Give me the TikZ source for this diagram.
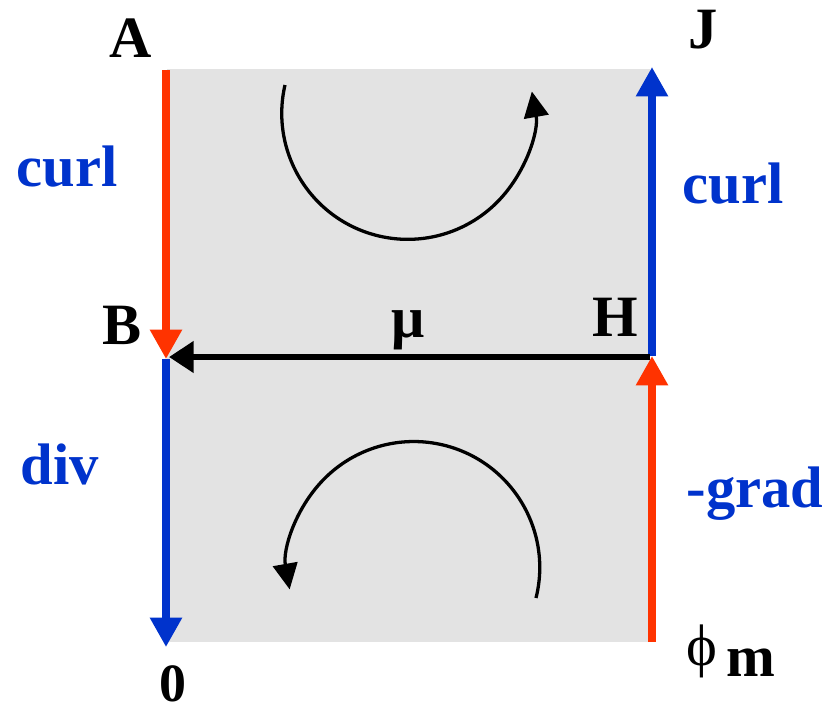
\documentclass[tikz,border=0pt]{standalone}
\usepackage{fontspec}
\setmainfont{Liberation Serif}
\usepackage{xcolor}
\usepackage{tikz}
\usetikzlibrary{arrows.meta}
\definecolor{flowred}{RGB}{255, 51, 0}
\definecolor{flowblue}{RGB}{0, 51, 204}
\definecolor{cellgray}{RGB}{227, 227, 227}

\begin{document}
\begin{tikzpicture}[x=0.03cm, y=-0.03cm,
    flow/.style={line width=6pt, -{Triangle[length=25pt, width=26pt]}},
    link/.style={line width=5pt, -{Triangle[length=21pt, width=26pt]}},
    turn/.style={line width=2.8pt, -{Triangle[length=22pt, width=21pt]}},
    lbl/.style={font=\fontsize{50}{52}\selectfont\bfseries, anchor=base, inner sep=0pt},
    op/.style={lbl, text=flowblue}]
    \useasboundingbox (0,0) rectangle (827,714);
    \fill[cellgray] (167,69) rectangle (650,642);
    % corners
    \coordinate (a) at (166,70);
    \coordinate (b) at (166,359);
    \coordinate (z) at (166,647);
    \coordinate (j) at (652,67);
    \coordinate (h) at (652,356);
    \coordinate (p) at (652,642);
    \coordinate (hl) at (650,357);
    \coordinate (bl) at (169,357);
    % arrows
    \draw[flow, flowred] (a) -- (b);
    \draw[flow, flowblue] (b) -- (z);
    \draw[flow, flowblue] (h) -- (j);
    \draw[flow, flowred] (p) -- (h);
    \draw[link, black] (hl) -- (bl);
    \draw[turn] (285,85) arc[start angle=193, end angle=-10, radius=126];
    \draw[turn] (536,598) arc[start angle=14, end angle=-190, radius=126];
    % labels
    \node[lbl] (A) at (131,57) {A};
    \node[lbl] (J) at (703,48) {J};
    \node[lbl] (B) at (122,344) {B};
    \node[lbl] (H) at (615,336) {H};
    \node[lbl] (mu) at (408,337) {μ};
    \node[lbl, font=\fontsize{46}{48}\selectfont\bfseries] (zero) at (173,701) {0};
    \node[lbl, anchor=base west] (phim) at (686,665) {\mdseries ϕ\,\raisebox{-10pt}{\bfseries m}};
    \node[op] (curlA) at (67,186) {curl};
    \node[op] (curlJ) at (733,203) {curl};
    \node[op] (divB) at (60,484) {div};
    \node[op] (gradH) at (755,507) {-grad};
\end{tikzpicture}
\end{document}
